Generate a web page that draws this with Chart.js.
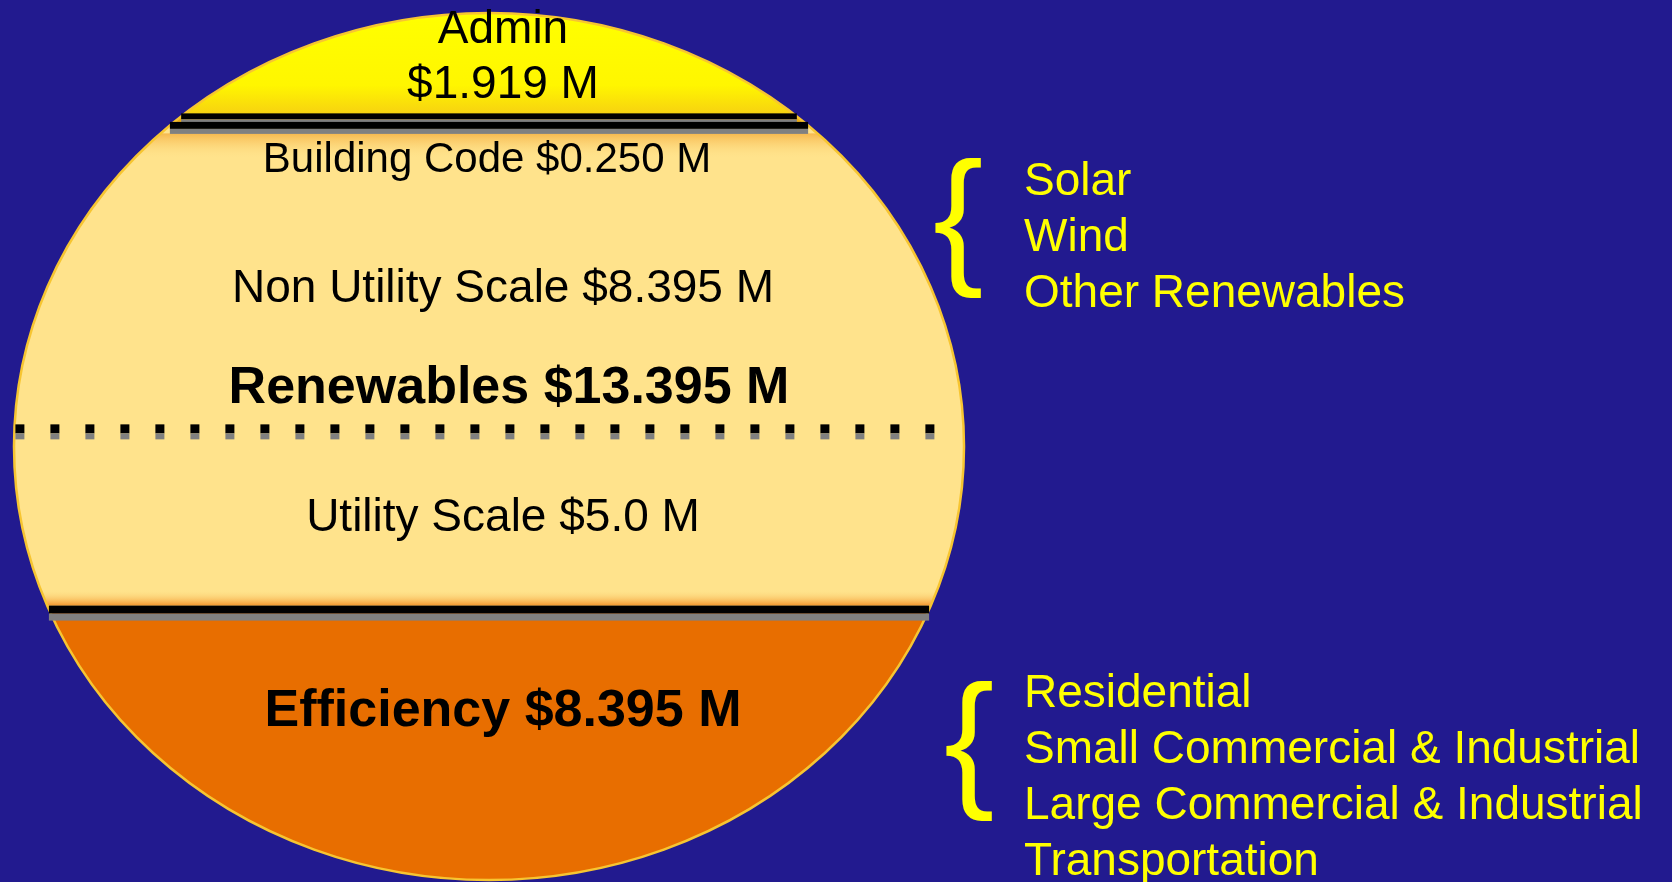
<!DOCTYPE html>
<html>
<head>
<meta charset="utf-8">
<title>Budget split</title>
<script src="https://cdn.jsdelivr.net/npm/chart.js@4.4.1/dist/chart.umd.min.js"></script>
<style>
  html, body { margin: 0; padding: 0; background: #221a8f; overflow: hidden; }
  canvas { display: block; }
</style>
</head>
<body>
<canvas id="myChart" width="1672" height="882"></canvas>
<script>
// program parts, from the top of the circle down
const parts = ["Admin", "Building Code", "Non Utility Scale", "Utility Scale", "Efficiency"];
// money for each part, millions of dollars
const amounts = [1.919, 0.250, 8.395, 5.0, 8.395];
// how many decimals each label shows
const decimals = [3, 3, 3, 1, 3];
// the two renewables parts are added for the group label
const renewableParts = [2, 3];
// lists on the right side
const renewableTypes = ["Solar", "Wind", "Other Renewables"];
const efficiencySectors = ["Residential", "Small Commercial & Industrial", "Large Commercial & Industrial", "Transportation"];

const FONT = '"Liberation Sans", Arial, sans-serif';
// the circle (a little flat) the bars are cut to
const ellipse = { x: 489, y: 446.5, rx: 475, ry: 433.5 };

function halfChord(y) {
  const t = (y - ellipse.y) / ellipse.ry;
  if (t <= -1 || t >= 1) return 0;
  return ellipse.rx * Math.sqrt(1 - t * t);
}

function money(i) {
  return "$" + amounts[i].toFixed(decimals[i]) + " M";
}

// yellow of the admin cap, also used above where the bars start
function adminFill(context) {
  const chart = context.chart;
  const yScale = chart.scales.y;
  if (!yScale || !chart.chartArea) return "#ffff00";
  const bottom = yScale.getPixelForValue(amounts[0]);
  if (!isFinite(bottom)) return "#ffff00";
  const g = chart.ctx.createLinearGradient(0, ellipse.y - ellipse.ry, 0, bottom);
  g.addColorStop(0, "#ffff00");
  g.addColorStop(0.7, "#fff600");
  g.addColorStop(1, "#f6cf12");
  return g;
}

function buildingFill(context) {
  const chart = context.chart;
  const yScale = chart.scales.y;
  if (!yScale || !chart.chartArea) return "#e9a400";
  const top = yScale.getPixelForValue(amounts[0]);
  const bottom = yScale.getPixelForValue(amounts[0] + amounts[1]);
  if (!isFinite(top) || !isFinite(bottom)) return "#e9a400";
  const g = chart.ctx.createLinearGradient(0, top, 0, bottom + 1);
  g.addColorStop(0, "#e5a000");
  g.addColorStop(1, "#f3bd3c");
  return g;
}

const fills = [adminFill, buildingFill, "#ffe38c", "#ffe38c", "#e86e00"];

// top and bottom pixel of each band
function bands(chart) {
  return chart.data.datasets.map((d, i) => {
    const bar = chart.getDatasetMeta(i).data[0];
    return { top: Math.min(bar.base, bar.y), bottom: Math.max(bar.base, bar.y) };
  });
}

function solidLine(c, y, black, gray) {
  const h = halfChord(y);
  c.fillStyle = "#000000";
  c.fillRect(ellipse.x - h, y - black / 2, 2 * h, black);
  c.fillStyle = "#808080";
  c.fillRect(ellipse.x - h, y + black / 2, 2 * h, gray);
}

function dottedLine(c, y) {
  const h = halfChord(y);
  for (let x = ellipse.x - h + 1; x + 9 < ellipse.x + h - 18; x += 35) {
    c.fillStyle = "#000000";
    c.fillRect(x, y - 4.5, 9, 9);
    c.fillStyle = "#808080";
    c.fillRect(x, y + 4.5, 9, 6);
  }
}

function textAt(c, text, x, centerY, size, bold, color, align) {
  c.font = (bold ? "bold " : "") + size + "px " + FONT;
  c.fillStyle = color;
  c.textAlign = align || "center";
  c.textBaseline = "alphabetic";
  c.fillText(text, x, centerY + size * 0.716 / 2);
}

const circlePlugin = {
  id: "circle",
  beforeDatasetsDraw(chart) {
    const c = chart.ctx;
    c.save();
    c.beginPath();
    c.ellipse(ellipse.x, ellipse.y, ellipse.rx, ellipse.ry, 0, 0, Math.PI * 2);
    c.clip();
    c.fillStyle = adminFill({ chart: chart });
    c.fillRect(0, 0, chart.width, chart.height);
  },
  afterDatasetsDraw(chart) {
    const c = chart.ctx;
    const b = bands(chart);
    // soft orange glow under the building code line and over the efficiency line
    let y0 = b[1].bottom + 8;
    let g = c.createLinearGradient(0, y0, 0, y0 + 26);
    g.addColorStop(0, "rgba(246,184,78,1)");
    g.addColorStop(1, "rgba(255,227,140,0)");
    c.fillStyle = g;
    c.fillRect(0, y0, chart.width, 26);
    y0 = b[3].bottom - 20;
    g = c.createLinearGradient(0, y0, 0, y0 + 16);
    g.addColorStop(0, "rgba(255,227,140,0)");
    g.addColorStop(1, "rgba(243,150,45,1)");
    c.fillStyle = g;
    c.fillRect(0, y0, chart.width, 16);
    c.restore();

    // rim
    c.save();
    c.beginPath();
    c.ellipse(ellipse.x, ellipse.y, ellipse.rx, ellipse.ry, 0, 0, Math.PI * 2);
    c.lineWidth = 2.5;
    c.strokeStyle = "#f7c531";
    c.stroke();
    c.restore();

    solidLine(c, b[0].bottom, 6, 5);
    solidLine(c, b[1].bottom, 7, 5);
    dottedLine(c, b[2].bottom);
    solidLine(c, b[3].bottom, 8, 7);
  },
  afterDraw(chart) {
    const c = chart.ctx;
    const b = bands(chart);
    const tx = ellipse.x + 14;
    c.save();
    // admin, two lines sitting on its line
    textAt(c, parts[0], tx, b[0].bottom - 90, 46, false, "#000");
    textAt(c, money(0), tx, b[0].bottom - 35, 46, false, "#000");
    // building code, just under its line
    textAt(c, parts[1] + " " + money(1), tx - 16, b[1].bottom + 32, 42, false, "#000");
    textAt(c, parts[2] + " " + money(2), tx, (b[2].top + b[2].bottom) / 2 + 8, 46, false, "#000");
    const renewTotal = renewableParts.reduce((s, i) => s + amounts[i], 0);
    textAt(c, "Renewables $" + renewTotal.toFixed(3) + " M", tx + 6, b[2].bottom - 44, 52, true, "#000");
    textAt(c, parts[3] + " " + money(3), tx, (b[3].top + b[3].bottom) / 2 - 5, 46, false, "#000");
    textAt(c, parts[4] + " " + money(4), tx, b[4].top + 98, 52, true, "#000");

    // braces and lists on the right
    c.font = "151px " + FONT;
    c.fillStyle = "#ffff00";
    c.textAlign = "left";
    c.textBaseline = "alphabetic";
    c.fillText("{", 933, 267);
    c.fillText("{", 944, 790);
    renewableTypes.forEach((t, i) => textAt(c, t, 1024, 179 + i * 56, 46, false, "#ffff00", "left"));
    efficiencySectors.forEach((t, i) => textAt(c, t, 1024, 691 + i * 55.7, 46, false, "#ffff00", "left"));
    c.restore();
  }
};

const myChart = document.getElementById("myChart");

new Chart(myChart, {
  type: "bar",
  data: {
    labels: ["Budget"],
    datasets: parts.map((p, i) => ({
      label: p,
      data: [amounts[i]],
      backgroundColor: fills[i],
      borderWidth: 0,
      barPercentage: 1,
      categoryPercentage: 1
    }))
  },
  options: {
    responsive: false,
    animation: false,
    layout: { padding: { top: 47, left: 0, right: 0, bottom: 0 } },
    scales: {
      x: { stacked: true, display: false },
      y: { stacked: true, display: false, reverse: true, min: 0, max: 23.1 }
    },
    plugins: {
      legend: { display: false },
      tooltip: { enabled: false }
    }
  },
  plugins: [circlePlugin]
});
</script>
</body>
</html>
